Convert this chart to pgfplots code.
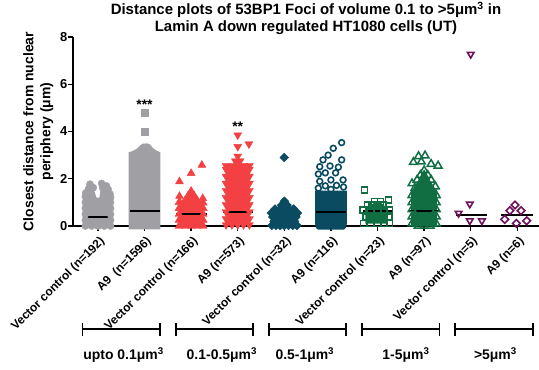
\documentclass[border=0pt]{standalone}
\usepackage{fontspec}
\setmainfont{Liberation Sans}
\usepackage{pgfplots}
\pgfplotsset{compat=1.18}
\definecolor{cgray}{RGB}{160,160,164}
\definecolor{cred}{RGB}{243,64,66}
\definecolor{cteal}{RGB}{10,75,98}
\definecolor{cgreen}{RGB}{16,110,66}
\definecolor{cpurple}{RGB}{110,16,90}
\begin{document}
\begin{tikzpicture}
\begin{axis}[
  at={(0,0)}, anchor=south west,
  scale only axis, width=466bp, height=189bp,
  xmin=-0.535, xmax=9.465, ymin=0, ymax=8,
  clip=false,
  axis x line=bottom, axis y line=left,
  axis line style={-, line width=1.6bp, black},
  tick align=outside, major tick length=4.5bp,
  tick style={black, line width=1.3bp},
  xtick={0,...,9},
  xticklabels={Vector control (n=192), A9\ \ (n=1596), Vector control (n=166), A9 (n=573), Vector control (n=32), A9 (n=116), Vector control (n=23), A9 (n=97), Vector control (n=5), A9 (n=6)},
  xticklabel style={xshift=5bp, yshift=-9bp, rotate=45, anchor=east, inner sep=0pt, font=\bfseries\fontsize{12}{14}\selectfont},
  ytick={0,2,4,6,8},
  yticklabel style={inner sep=0pt, xshift=-1bp, font=\bfseries\fontsize{13}{13}\selectfont},
  /pgf/number format/assume math mode=true,
  ylabel={Closest distance from nuclear\\periphery (μm)},
  ylabel style={at={(axis description cs:-0.042,0.5)}, anchor=south, inner sep=0pt, align=center, font=\bfseries\fontsize{14}{17}\selectfont},
  title={Distance plots of 53BP1 Foci of volume 0.1 to >5μm\textsuperscript{3} in\\Lamin A down regulated HT1080 cells (UT)},
  title style={at={(axis description cs:0.5,1)}, anchor=south, inner sep=0pt, yshift=-4bp, align=center, font=\bfseries\fontsize{15}{17}\selectfont},
]
% ---- category 0: Vector control, upto 0.1 (gray circles)
\addplot[fill=cgray, draw=none] coordinates {(-0.27,0) (0.27,0) (0.27,1.2) (0.22,1.55) (0.18,1.7) (0.08,1.8) (0.03,1.2) (-0.03,1.2) (-0.1,1.62) (-0.17,1.77) (-0.26,1.4)} -- cycle;
\addplot[only marks, mark=*, mark size=3.6pt, color=cgray] coordinates {
(-0.27,0) (-0.135,0) (0,0) (0.135,0) (0.27,0)
(-0.27,0.25) (-0.27,0.5) (-0.27,0.75) (-0.27,1.0) (-0.27,1.25) (-0.26,1.4)
(0.27,0.25) (0.27,0.5) (0.27,0.75) (0.27,1.0) (0.27,1.2) (0.26,1.35)
(-0.2,1.58) (-0.17,1.77) (-0.1,1.62) (0.1,1.62) (0.08,1.8) (0.18,1.7) (0.22,1.55)};
% ---- category 1: A9, upto 0.1 (gray squares)
\addplot[fill=cgray, draw=none] coordinates {(0.66,-0.14) (1.34,-0.14) (1.34,3.12) (1.25,3.2) (1.18,3.3) (1.12,3.45) (1.05,3.5) (0.95,3.48) (0.9,3.4) (0.84,3.28) (0.75,3.18) (0.66,3.12)} -- cycle;
\addplot[only marks, mark=square*, mark size=3.5pt, color=cgray] coordinates {(1,4.0) (1,4.78)};
% ---- category 2: Vector control, 0.1-0.5 (red triangles)
\addplot[fill=cred, draw=none] coordinates {(1.74,0) (2.26,0) (2.26,0.98) (2.25,1.17) (2.17,0.95) (2.12,1.12) (2,1.48) (1.88,1.12) (1.83,0.95) (1.75,1.26) (1.74,1.0)} -- cycle;
\addplot[only marks, mark=triangle*, mark size=4.6pt, color=cred] coordinates {
(1.74,0) (1.87,0) (2,0) (2.13,0) (2.26,0)
(1.74,0.25) (1.74,0.5) (1.74,0.75) (1.74,1.0) (2.26,0.25) (2.26,0.5) (2.26,0.75) (2.26,0.98)
(1.75,1.26) (1.83,0.95) (1.88,1.12) (1.94,1.3) (2,1.48) (2.06,1.3) (2.12,1.12) (2.17,0.95) (2.25,1.17)
(1.75,1.88) (2,2.23) (2.23,2.58)};
% ---- category 3: A9, 0.1-0.5 (red down triangles)
\addplot[fill=cred, draw=none] coordinates {(2.75,0.05) (3.25,0.05) (3.25,2.55) (3.06,2.55) (3.05,2.8) (3,2.95) (2.95,2.8) (2.94,2.55) (2.75,2.55)} -- cycle;
\addplot[only marks, mark=triangle*, mark size=4.6pt, mark options={rotate=180}, color=cred] coordinates {
(2.75,0.05) (2.875,0.05) (3,0.05) (3.125,0.05) (3.25,0.05)
(2.75,0.3) (2.75,0.6) (2.75,0.9) (2.75,1.2) (2.75,1.5) (2.75,1.8) (2.75,2.1) (2.75,2.4)
(3.25,0.3) (3.25,0.6) (3.25,0.9) (3.25,1.2) (3.25,1.5) (3.25,1.8) (3.25,2.1) (3.25,2.4)
(2.75,2.55) (2.875,2.55) (3,2.55) (3.125,2.55) (3.25,2.55) (2.95,2.75) (3.05,2.75) (3,2.95)
(3,3.85) (3,3.36) (3.24,3.47)};
% ---- category 4: Vector control, 0.5-1 (teal diamonds)
\addplot[only marks, mark=square*, mark size=3.1pt, mark options={rotate=45}, color=cteal] coordinates {
(3.73,0.02) (3.82,0.02) (3.91,0.02) (4,0.02) (4.09,0.02) (4.18,0.02) (4.27,0.02)
(3.78,0.2) (3.89,0.2) (4,0.2) (4.11,0.2) (4.22,0.2)
(3.75,0.38) (3.87,0.38) (4,0.38) (4.13,0.38) (4.25,0.38)
(3.72,0.55) (3.83,0.55) (3.95,0.55) (4.05,0.55) (4.17,0.55) (4.28,0.55)
(3.8,0.72) (3.91,0.72) (4,0.72) (4.09,0.72) (4.2,0.72)
(3.94,0.88) (4.06,0.88) (4,1.05) (4,2.9)};
% ---- category 5: A9, 0.5-1 (teal open circles)
\addplot[fill=cteal, draw=none] coordinates {(4.66,0.1) (4.68,-0.08) (4.72,-0.15) (5.28,-0.15) (5.32,-0.08) (5.34,0.1) (5.34,1.5) (4.66,1.5)} -- cycle;
\addplot[only marks, mark=o, mark size=2.9pt, line width=1.6bp, color=cteal] coordinates {
(5.23,3.53) (5.05,3.29) (4.94,3.0) (4.83,2.8) (5.23,2.8) (4.76,2.51) (4.98,2.54) (5.16,2.49)
(4.73,2.2) (4.88,2.25) (5.1,2.25) (5.26,1.95) (4.76,1.89) (5,1.95) (4.88,1.7) (5.12,1.72)
(5.27,1.65) (4.73,1.6) (5.0,1.55)};
% ---- category 6: Vector control, 1-5 (green open squares)
\addplot[fill=cgreen, draw=none] coordinates {(5.74,0.1) (6.22,0.1) (6.22,0.7) (6.1,0.95) (6.0,1.03) (5.9,0.95) (5.74,0.7)} -- cycle;
\addplot[only marks, mark=square, mark size=3pt, line width=1.5bp, color=cgreen] coordinates {
(5.7,0.1) (5.85,0.1) (6.0,0.1) (6.15,0.1) (6.26,0.1)
(5.75,0.38) (5.88,0.38) (6,0.38) (6.12,0.38) (6.25,0.38)
(5.69,0.68) (5.85,0.68) (6,0.68) (6.15,0.68) (6.26,0.68)
(5.88,0.9) (6,0.9) (6.12,0.9) (5.94,1.03) (6.06,1.03) (5.78,0.9)
(5.72,1.53) (6.24,1.1)};
% ---- category 7: A9, 1-5 (green open triangles)
\addplot[fill=cgreen, draw=none] coordinates {(6.72,-0.03) (7.28,-0.03) (7.28,1.45) (7.2,1.7) (7.12,1.95) (7.06,2.2) (7,2.4) (6.94,2.2) (6.88,1.95) (6.8,1.7) (6.72,1.45)} -- cycle;
\addplot[only marks, mark=triangle, mark size=4.5pt, line width=1.5bp, color=cgreen] coordinates {
(6.88,2.95) (7.02,2.98) (6.77,2.7) (6.94,2.72) (7.15,2.62) (7.3,2.55) (7,2.35) (6.92,2.15) (7.08,2.15)
(6.74,1.8) (6.85,1.95) (7.15,1.95) (7.24,1.67) (6.8,1.6)
(6.74,1.3) (7.26,1.3) (6.74,1.0) (7.26,1.0) (6.74,0.7) (7.26,0.7) (6.74,0.4) (7.26,0.4) (6.74,0.1) (7.26,0.1)
(6.87,0.0) (7,0.0) (7.13,0.0)};
% ---- category 8: Vector control, >5 (purple open down triangles)
\addplot[only marks, mark=triangle, mark size=3.8pt, line width=1.6bp, mark options={rotate=180}, color=cpurple] coordinates {
(8,7.27) (7.74,0.54) (7.98,0.93) (7.98,0.22) (8.24,0.22)};
% ---- category 9: A9, >5 (purple open diamonds)
\addplot[only marks, mark=square, mark size=2.7pt, line width=1.6bp, mark options={rotate=45}, color=cpurple] coordinates {
(8.95,0.89) (8.84,0.65) (9.08,0.65) (8.73,0.28) (9.2,0.22) (8.98,0.11)};
% ---- medians
\addplot[black, line width=2bp] coordinates {(-0.32,0.39) (0.33,0.39)};
\addplot[black, line width=2bp] coordinates {(0.68,0.64) (1.33,0.64)};
\addplot[black, line width=2bp] coordinates {(1.68,0.5) (2.33,0.5)};
\addplot[black, line width=2bp] coordinates {(2.68,0.61) (3.33,0.61)};
\addplot[black, line width=2bp] coordinates {(3.68,0.42) (4.33,0.42)};
\addplot[black, line width=2bp] coordinates {(4.68,0.58) (5.33,0.58)};
\addplot[black, line width=2bp] coordinates {(5.68,0.65) (6.33,0.65)};
\addplot[black, line width=2bp] coordinates {(6.68,0.64) (7.33,0.64)};
\addplot[black, line width=2bp] coordinates {(7.68,0.47) (8.34,0.47)};
\addplot[black, line width=2bp] coordinates {(8.66,0.45) (9.34,0.45)};
% ---- significance
\node[anchor=base, font=\bfseries\fontsize{14}{14}\selectfont] at (axis cs:1,4.92) {***};
\node[anchor=base, font=\bfseries\fontsize{14}{14}\selectfont] at (axis cs:3,4.02) {**};
% ---- group brackets
\draw[line width=1.8bp] (axis cs:-0.33,-4.37) -- (axis cs:1.33,-4.37) (axis cs:-0.33,-4.1) -- (axis cs:-0.33,-4.64) (axis cs:1.33,-4.1) -- (axis cs:1.33,-4.64);
\draw[line width=1.8bp] (axis cs:1.67,-4.37) -- (axis cs:3.33,-4.37) (axis cs:1.67,-4.1) -- (axis cs:1.67,-4.64) (axis cs:3.33,-4.1) -- (axis cs:3.33,-4.64);
\draw[line width=1.8bp] (axis cs:3.67,-4.37) -- (axis cs:5.33,-4.37) (axis cs:3.67,-4.1) -- (axis cs:3.67,-4.64) (axis cs:5.33,-4.1) -- (axis cs:5.33,-4.64);
\draw[line width=1.8bp] (axis cs:5.67,-4.37) -- (axis cs:7.33,-4.37) (axis cs:5.67,-4.1) -- (axis cs:5.67,-4.64) (axis cs:7.33,-4.1) -- (axis cs:7.33,-4.64);
\draw[line width=1.8bp] (axis cs:7.67,-4.37) -- (axis cs:9.33,-4.37) (axis cs:7.67,-4.1) -- (axis cs:7.67,-4.64) (axis cs:9.33,-4.1) -- (axis cs:9.33,-4.64);
\node[anchor=base, font=\bfseries\fontsize{14}{14}\selectfont] at (axis cs:0.55,-5.64) {upto 0.1μm\textsuperscript{3}};
\node[anchor=base, font=\bfseries\fontsize{14}{14}\selectfont] at (axis cs:2.66,-5.64) {0.1-0.5μm\textsuperscript{3}};
\node[anchor=base, font=\bfseries\fontsize{14}{14}\selectfont] at (axis cs:4.44,-5.64) {0.5-1μm\textsuperscript{3}};
\node[anchor=base, font=\bfseries\fontsize{14}{14}\selectfont] at (axis cs:6.61,-5.64) {1-5μm\textsuperscript{3}};
\node[anchor=base, font=\bfseries\fontsize{14}{14}\selectfont] at (axis cs:8.53,-5.64) {>5μm\textsuperscript{3}};
\end{axis}
\pgfresetboundingbox
\path[use as bounding box] (-73bp,-144bp) rectangle (466bp,226bp);
\end{tikzpicture}
\end{document}
